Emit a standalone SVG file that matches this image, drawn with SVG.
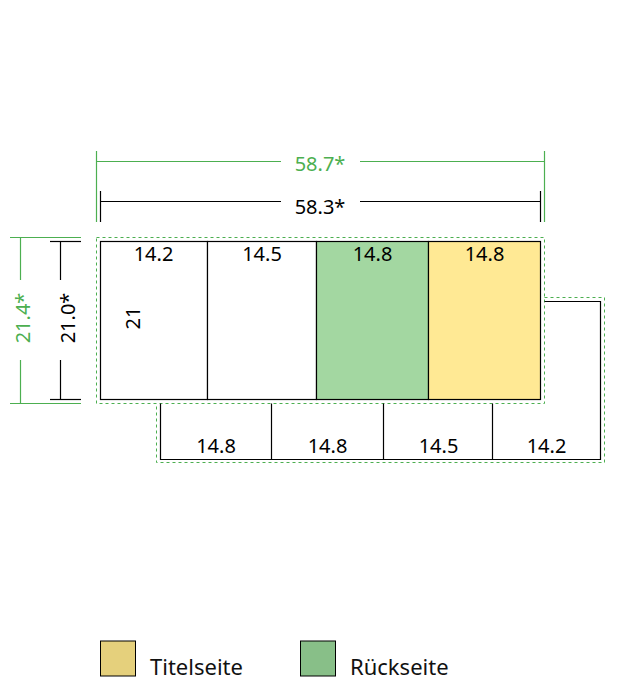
<svg xmlns="http://www.w3.org/2000/svg" width="640" height="680" viewBox="0 0 640 680">
<style>
.t{font-family:"Noto Sans","Liberation Sans",sans-serif;font-size:20px;fill:#000;text-anchor:middle}
.g{fill:#4caf50}
.ln{stroke:#000;stroke-width:1.2;fill:none}
.gl{stroke:#4caf50;stroke-width:1.2;fill:none}
.dash{stroke:#4caf50;stroke-width:1;fill:none;stroke-dasharray:3,3}
.pg{stroke:#000;stroke-width:1.2}
.white{fill:#fff}
.back{fill:#a3d7a1}
.title{fill:#ffe994}
.lg{font-family:"Noto Sans","Liberation Sans",sans-serif;font-size:22px;fill:#111}
</style>
<rect width="640" height="680" fill="#fff"/>
<g id="connectors">
  <line class="gl" x1="96.5" y1="151" x2="96.5" y2="222"/>
  <line class="gl" x1="544.5" y1="151" x2="544.5" y2="222"/>
  <line class="gl" x1="96.5" y1="161.5" x2="281" y2="161.5"/>
  <line class="gl" x1="360" y1="161.5" x2="544.5" y2="161.5"/>
  <line class="ln" x1="100.5" y1="191" x2="100.5" y2="222"/>
  <line class="ln" x1="540.5" y1="191" x2="540.5" y2="222"/>
  <line class="ln" x1="100.5" y1="201.5" x2="281" y2="201.5"/>
  <line class="ln" x1="360" y1="201.5" x2="540.5" y2="201.5"/>
  <line class="gl" x1="10" y1="237.5" x2="81" y2="237.5"/>
  <line class="gl" x1="10" y1="403.5" x2="81" y2="403.5"/>
  <line class="gl" x1="20.5" y1="237.5" x2="20.5" y2="280"/>
  <line class="gl" x1="20.5" y1="360" x2="20.5" y2="403.5"/>
  <line class="ln" x1="50" y1="241.5" x2="81" y2="241.5"/>
  <line class="ln" x1="50" y1="399.5" x2="81" y2="399.5"/>
  <line class="ln" x1="60.5" y1="241.5" x2="60.5" y2="280"/>
  <line class="ln" x1="60.5" y1="360" x2="60.5" y2="399.5"/>
</g>
<g id="dim-labels">
  <text class="t g" x="320" y="171">58.7*</text>
  <text class="t" x="320" y="214.3">58.3*</text>
  <text class="t g" transform="translate(30,318) rotate(-90)">21.4*</text>
  <text class="t" transform="translate(75,318) rotate(-90)">21.0*</text>
</g>
<g id="outline-dashed">
  <rect class="dash" x="96.5" y="237.5" width="448" height="166"/>
  <polyline class="dash" points="544.5,297.5 604.5,297.5 604.5,462.5 156.5,462.5 156.5,403.5"/>
</g>
<g id="top-row">
  <g id="p1">
    <rect x="100.5" y="241.5" width="107" height="158" class="pg white"/>
    <text class="t" x="153.5" y="260.5">14.2</text>
    <text class="t" transform="translate(140,318) rotate(-90)">21</text>
  </g>
  <g id="p2">
    <rect x="207.5" y="241.5" width="109" height="158" class="pg white"/>
    <text class="t" x="262" y="260.5">14.5</text>
  </g>
  <g id="p3">
    <rect x="316.5" y="241.5" width="112" height="158" class="pg back"/>
    <text class="t" x="372.5" y="260.5">14.8</text>
  </g>
  <g id="p4">
    <rect x="428.5" y="241.5" width="112" height="158" class="pg title"/>
    <text class="t" x="484.5" y="260.5">14.8</text>
  </g>
</g>
<g id="bottom-row">
  <path class="ln" d="M544.5,301.5 H600.5 V459.5 H160.5 V403.5"/>
  <line class="ln" x1="271.5" y1="403.5" x2="271.5" y2="459.5"/>
  <line class="ln" x1="383.5" y1="403.5" x2="383.5" y2="459.5"/>
  <line class="ln" x1="492.5" y1="403.5" x2="492.5" y2="459.5"/>
  <g id="b1"><text class="t" x="216" y="453.3">14.8</text></g>
  <g id="b2"><text class="t" x="327.5" y="453.3">14.8</text></g>
  <g id="b3"><text class="t" x="438.5" y="453.3">14.5</text></g>
  <g id="b4"><text class="t" x="546.5" y="453.3">14.2</text></g>
</g>
<g id="legend">
  <g id="legend-titel">
    <rect x="100.5" y="641" width="35" height="35" fill="#e5d07c" stroke="#000" stroke-width="1"/>
    <text class="lg" x="150" y="675">Titelseite</text>
  </g>
  <g id="legend-rueck">
    <rect x="300.5" y="641" width="35" height="35" fill="#88bf88" stroke="#000" stroke-width="1"/>
    <text class="lg" x="350" y="675">Rückseite</text>
  </g>
</g>
</svg>
